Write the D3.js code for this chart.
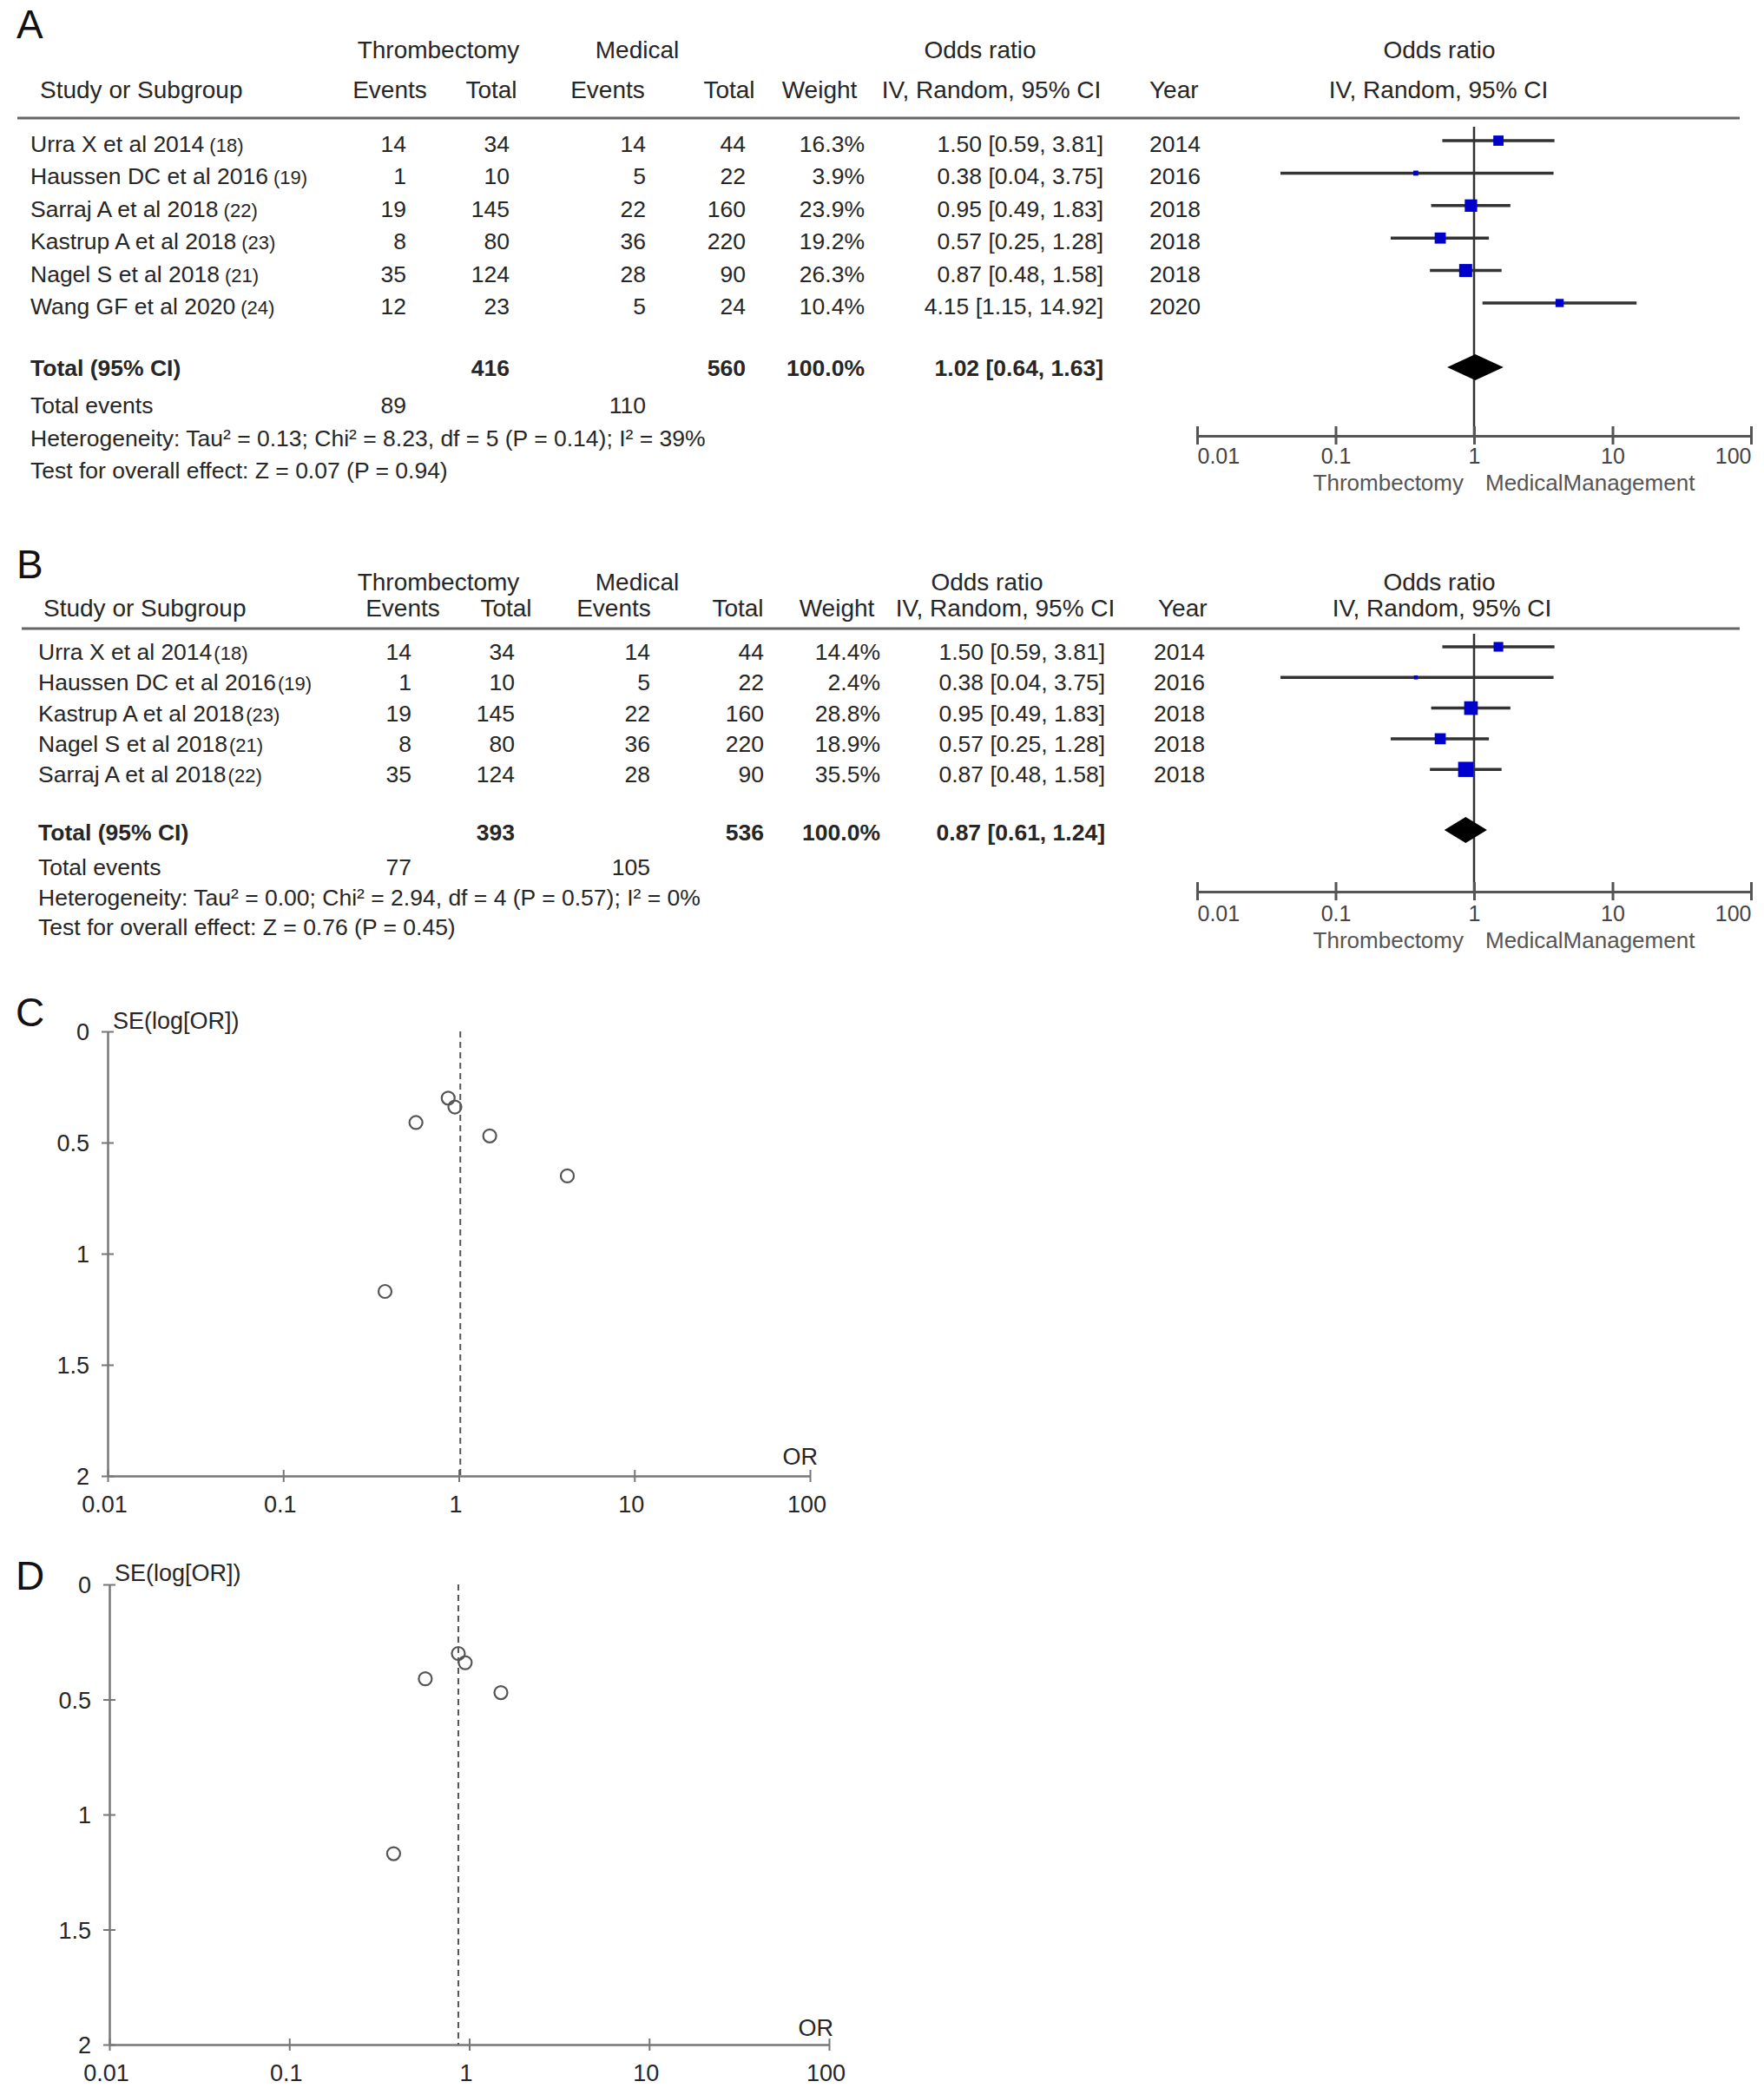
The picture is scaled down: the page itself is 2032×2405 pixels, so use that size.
<!DOCTYPE html>
<html>
<head>
<meta charset="utf-8">
<script src="https://cdn.jsdelivr.net/npm/d3@7"></script>
<style>
body { margin: 0; background: #fff; }
svg { display: block; font-family: "Liberation Sans", Arial, Helvetica, sans-serif; }
</style>
</head>
<body>
<svg id="fig" width="2032" height="2405"></svg>
<script>
// ---- panel A : all studies ----
var studiesA = ["Urra X et al 2014", "Haussen DC et al 2016", "Sarraj A et al 2018", "Kastrup A et al 2018", "Nagel S et al 2018", "Wang GF et al 2020"];
var refsA = ["(18)", "(19)", "(22)", "(23)", "(21)", "(24)"];
var thrEventsA = [14, 1, 19, 8, 35, 12];
var thrTotalA = [34, 10, 145, 80, 124, 23];
var medEventsA = [14, 5, 22, 36, 28, 5];
var medTotalA = [44, 22, 160, 220, 90, 24];
var weightA = [16.3, 3.9, 23.9, 19.2, 26.3, 10.4];
var orA = [1.50, 0.38, 0.95, 0.57, 0.87, 4.15];
var loA = [0.59, 0.04, 0.49, 0.25, 0.48, 1.15];
var hiA = [3.81, 3.75, 1.83, 1.28, 1.58, 14.92];
var yearA = [2014, 2016, 2018, 2018, 2018, 2020];
var pooledA = [1.02, 0.64, 1.63];
var totalsA = [416, 560];
var totalEventsA = [89, 110];
var hetA = "Heterogeneity: Tau\u00b2 = 0.13; Chi\u00b2 = 8.23, df = 5 (P = 0.14); I\u00b2 = 39%";
var testA = "Test for overall effect: Z = 0.07 (P = 0.94)";

// ---- panel B : sensitivity analysis ----
var studiesB = ["Urra X et al 2014", "Haussen DC et al 2016", "Kastrup A et al 2018", "Nagel S et al 2018", "Sarraj A et al 2018"];
var refsB = ["(18)", "(19)", "(23)", "(21)", "(22)"];
var thrEventsB = [14, 1, 19, 8, 35];
var thrTotalB = [34, 10, 145, 80, 124];
var medEventsB = [14, 5, 22, 36, 28];
var medTotalB = [44, 22, 160, 220, 90];
var weightB = [14.4, 2.4, 28.8, 18.9, 35.5];
var orB = [1.50, 0.38, 0.95, 0.57, 0.87];
var loB = [0.59, 0.04, 0.49, 0.25, 0.48];
var hiB = [3.81, 3.75, 1.83, 1.28, 1.58];
var yearB = [2014, 2016, 2018, 2018, 2018];
var pooledB = [0.87, 0.61, 1.24];
var totalsB = [393, 536];
var totalEventsB = [77, 105];
var hetB = "Heterogeneity: Tau\u00b2 = 0.00; Chi\u00b2 = 2.94, df = 4 (P = 0.57); I\u00b2 = 0%";
var testB = "Test for overall effect: Z = 0.76 (P = 0.45)";

// ---- funnel plots C and D ----
var funnelOrC = [1.50, 0.38, 0.95, 0.57, 0.87, 4.15];
var funnelSeC = [0.47, 1.17, 0.34, 0.41, 0.30, 0.65];
var funnelPooledC = 1.02;
var funnelOrD = [1.50, 0.38, 0.95, 0.57, 0.87];
var funnelSeD = [0.47, 1.17, 0.34, 0.41, 0.30];
var funnelPooledD = 0.87;

// ---- tick labels ----
var orTicks = [0.01, 0.1, 1, 10, 100];
var seTicks = [0, 0.5, 1, 1.5, 2];

var svg = d3.select("#fig");
var txt = "#262626";

function fmt2(v) { return v.toFixed(2); }

function drawForest(cfg, d) {
    var g = svg.append("g").classed("forest", true);
    var x = d3.scaleLog().domain([0.01, 100]).range([1379, 2017]);
    var side = d3.scaleSqrt().domain([0, 40]).range([0, 18.5]);
    var rowY = function (i) { return cfg.rowY0 + i * cfg.rowStep; };

    g.append("text").attr("x", 19).attr("y", cfg.letterY)
        .attr("font-size", 46).attr("fill", "#111").text(cfg.letter);

    // header
    var h = g.append("g").attr("font-size", 28).attr("fill", txt).attr("text-anchor", "middle");
    h.append("text").attr("x", cfg.hdr.thromb).attr("y", cfg.hdr1Y).text("Thrombectomy");
    h.append("text").attr("x", cfg.hdr.medical).attr("y", cfg.hdr1Y).text("Medical");
    h.append("text").attr("x", cfg.hdr.or).attr("y", cfg.hdr1Y).text("Odds ratio");
    h.append("text").attr("x", cfg.hdr.or2).attr("y", cfg.hdr1Y).text("Odds ratio");
    h.append("text").attr("x", cfg.studyHdrX).attr("y", cfg.hdr2Y).attr("text-anchor", "start").text("Study or Subgroup");
    h.append("text").attr("x", cfg.hdr.te).attr("y", cfg.hdr2Y).text("Events");
    h.append("text").attr("x", cfg.hdr.tt).attr("y", cfg.hdr2Y).text("Total");
    h.append("text").attr("x", cfg.hdr.me).attr("y", cfg.hdr2Y).text("Events");
    h.append("text").attr("x", cfg.hdr.mt).attr("y", cfg.hdr2Y).text("Total");
    h.append("text").attr("x", cfg.hdr.w).attr("y", cfg.hdr2Y).text("Weight");
    h.append("text").attr("x", cfg.hdr.iv).attr("y", cfg.hdr2Y).text("IV, Random, 95% CI");
    h.append("text").attr("x", cfg.hdr.year).attr("y", cfg.hdr2Y).attr("text-anchor", "start").text("Year");
    h.append("text").attr("x", cfg.hdr.iv2).attr("y", cfg.hdr2Y).text("IV, Random, 95% CI");

    g.append("line").attr("x1", cfg.ruleX0).attr("x2", 2004)
        .attr("y1", cfg.ruleY).attr("y2", cfg.ruleY)
        .attr("stroke", "#666").attr("stroke-width", 3);

    // study rows
    var rows = g.append("g").attr("font-size", 26.5).attr("fill", txt);
    d.studies.forEach(function (s, i) {
        var t = rows.append("text").attr("x", cfg.nameX).attr("y", rowY(i)).text(s);
        t.append("tspan").attr("dx", cfg.refGap).attr("font-size", 22).text(d.refs[i]);
        var cells = [
            [cfg.cols.te, d.thrEvents[i]], [cfg.cols.tt, d.thrTotal[i]],
            [cfg.cols.me, d.medEvents[i]], [cfg.cols.mt, d.medTotal[i]],
            [cfg.cols.w, d.weight[i].toFixed(1) + "%"],
            [cfg.cols.ci, fmt2(d.or[i]) + " [" + fmt2(d.lo[i]) + ", " + fmt2(d.hi[i]) + "]"]
        ];
        cells.forEach(function (c) {
            rows.append("text").attr("x", c[0]).attr("y", rowY(i)).attr("text-anchor", "end").text(c[1]);
        });
        rows.append("text").attr("x", cfg.cols.year).attr("y", rowY(i)).text(d.year[i]);
    });

    // totals
    var tot = g.append("g").attr("font-size", 26.5).attr("fill", txt);
    tot.append("text").attr("x", cfg.nameX).attr("y", cfg.totalY).attr("font-weight", "bold").text("Total (95% CI)");
    tot.append("text").attr("x", cfg.cols.tt).attr("y", cfg.totalY).attr("font-weight", "bold").attr("text-anchor", "end").text(d.totals[0]);
    tot.append("text").attr("x", cfg.cols.mt).attr("y", cfg.totalY).attr("font-weight", "bold").attr("text-anchor", "end").text(d.totals[1]);
    tot.append("text").attr("x", cfg.cols.w).attr("y", cfg.totalY).attr("font-weight", "bold").attr("text-anchor", "end").text("100.0%");
    tot.append("text").attr("x", cfg.cols.ci).attr("y", cfg.totalY).attr("font-weight", "bold").attr("text-anchor", "end")
        .text(fmt2(d.pooled[0]) + " [" + fmt2(d.pooled[1]) + ", " + fmt2(d.pooled[2]) + "]");
    tot.append("text").attr("x", cfg.nameX).attr("y", cfg.evY).text("Total events");
    tot.append("text").attr("x", cfg.cols.te).attr("y", cfg.evY).attr("text-anchor", "end").text(d.totalEvents[0]);
    tot.append("text").attr("x", cfg.cols.me).attr("y", cfg.evY).attr("text-anchor", "end").text(d.totalEvents[1]);
    tot.append("text").attr("x", cfg.nameX).attr("y", cfg.hetY).text(d.het);
    tot.append("text").attr("x", cfg.nameX).attr("y", cfg.testY).text(d.test);

    // plot: line of no effect
    g.append("line").attr("x1", x(1)).attr("x2", x(1))
        .attr("y1", cfg.vTop).attr("y2", cfg.axisY)
        .attr("stroke", "#333").attr("stroke-width", 2.5);

    // confidence intervals and squares
    var marks = g.append("g");
    d.or.forEach(function (v, i) {
        var cy = rowY(i) - cfg.markDy;
        marks.append("line").attr("x1", x(d.lo[i])).attr("x2", x(d.hi[i]))
            .attr("y1", cy).attr("y2", cy)
            .attr("stroke", "#333").attr("stroke-width", 3.5);
        var s = side(d.weight[i]);
        marks.append("rect").attr("x", x(v) - s / 2).attr("y", cy - s / 2)
            .attr("width", s).attr("height", s).attr("fill", "#0000cc");
    });

    // pooled diamond
    var dy = cfg.totalY - cfg.diaDy;
    var pts = [[x(d.pooled[1]), dy], [x(d.pooled[0]), dy - 15], [x(d.pooled[2]), dy], [x(d.pooled[0]), dy + 15]];
    g.append("path").attr("d", "M" + pts.join("L") + "Z").attr("fill", "#000");

    // axis
    var axisG = g.append("g").attr("transform", "translate(0," + cfg.axisY + ")")
        .call(d3.axisBottom(x).tickValues(orTicks).tickFormat(function (t) { return String(t); }).tickSizeOuter(0));
    axisG.attr("font-family", null).attr("font-size", 25);
    axisG.select(".domain").attr("stroke", "#555").attr("stroke-width", 3);
    axisG.selectAll(".tick line").attr("y1", -11).attr("y2", 10).attr("stroke", "#555").attr("stroke-width", 3);
    axisG.selectAll(".tick text").attr("dy", null).attr("y", cfg.tickLabY - cfg.axisY).attr("fill", "#444")
        .attr("text-anchor", function (t, i) { return i === 0 ? "start" : (i === orTicks.length - 1 ? "end" : "middle"); });

    g.append("text").attr("x", x(1) - 12).attr("y", cfg.sideLabY).attr("text-anchor", "end")
        .attr("font-size", 26).attr("fill", "#555").text("Thrombectomy");
    g.append("text").attr("x", x(1) + 13).attr("y", cfg.sideLabY)
        .attr("font-size", 26).attr("fill", "#555").text("MedicalManagement");
}

function drawFunnel(cfg, ors, ses, pooled) {
    var g = svg.append("g").classed("funnel", true);
    var x = d3.scaleLog().domain([0.01, 100]).range([cfg.x0, cfg.x1]);
    var y = d3.scaleLinear().domain([0, 2]).range([cfg.y0, cfg.y1]);

    g.append("text").attr("x", 18).attr("y", cfg.letterY)
        .attr("font-size", 46).attr("fill", "#111").text(cfg.letter);

    var ya = g.append("g").attr("transform", "translate(" + cfg.x0 + ",0)")
        .call(d3.axisLeft(y).tickValues(seTicks).tickFormat(function (t) { return String(t); }).tickSizeOuter(0));
    ya.attr("font-family", null).attr("font-size", 27);
    ya.select(".domain").attr("stroke", "#777").attr("stroke-width", 2.5);
    ya.selectAll(".tick line").attr("x1", -7).attr("x2", 7).attr("stroke", "#777").attr("stroke-width", 2);
    ya.selectAll(".tick text").attr("x", -21).attr("dy", "0.36em").attr("fill", txt);

    var xa = g.append("g").attr("transform", "translate(0," + cfg.y1 + ")")
        .call(d3.axisBottom(x).tickValues(orTicks).tickFormat(function (t) { return String(t); }).tickSizeOuter(0));
    xa.attr("font-family", null).attr("font-size", 27);
    xa.select(".domain").attr("stroke", "#777").attr("stroke-width", 2.5);
    xa.selectAll(".tick line").attr("y1", -7).attr("y2", 7).attr("stroke", "#777").attr("stroke-width", 2);
    xa.selectAll(".tick text").attr("dy", null).attr("y", 42).attr("dx", -4).attr("fill", txt);

    g.append("text").attr("x", cfg.x0 + 6).attr("y", cfg.seLabY)
        .attr("font-size", 27).attr("fill", txt).text("SE(log[OR])");
    g.append("text").attr("x", cfg.orLabX).attr("y", cfg.orLabY).attr("text-anchor", "end")
        .attr("font-size", 27).attr("fill", txt).text("OR");

    g.append("line").attr("x1", x(pooled)).attr("x2", x(pooled))
        .attr("y1", y(0)).attr("y2", y(2))
        .attr("stroke", "#555").attr("stroke-width", 2).attr("stroke-dasharray", "7,5");

    g.selectAll("circle.study").data(ors).enter().append("circle")
        .attr("class", "study")
        .attr("cx", function (v) { return x(v); })
        .attr("cy", function (v, i) { return y(ses[i]); })
        .attr("r", 7.5)
        .attr("fill", "none").attr("stroke", "#555").attr("stroke-width", 2.2);
}

drawForest({
    letter: "A", letterY: 44, hdr1Y: 67, hdr2Y: 113, ruleY: 136, ruleX0: 20,
    rowY0: 175, rowStep: 37.4, totalY: 433, evY: 476, hetY: 514, testY: 551,
    nameX: 35, studyHdrX: 46, refGap: 6, markDy: 13, diaDy: 10,
    cols: { te: 468, tt: 587, me: 744, mt: 859, w: 996, ci: 1271, year: 1324 },
    hdr: { thromb: 505, medical: 734, te: 449, tt: 566, me: 700, mt: 840, w: 944, or: 1129, iv: 1142, year: 1324, or2: 1658, iv2: 1657 },
    axisY: 502, vTop: 146, tickLabY: 534, sideLabY: 565
}, {
    studies: studiesA, refs: refsA, thrEvents: thrEventsA, thrTotal: thrTotalA,
    medEvents: medEventsA, medTotal: medTotalA, weight: weightA,
    or: orA, lo: loA, hi: hiA, year: yearA, pooled: pooledA,
    totals: totalsA, totalEvents: totalEventsA, het: hetA, test: testA
});

drawForest({
    letter: "B", letterY: 666, hdr1Y: 680, hdr2Y: 710, ruleY: 724, ruleX0: 25,
    rowY0: 760, rowStep: 35.3, totalY: 968, evY: 1008, hetY: 1043, testY: 1077,
    nameX: 44, studyHdrX: 50, refGap: 2, markDy: 15, diaDy: 12,
    cols: { te: 474, tt: 593, me: 749, mt: 880, w: 1014, ci: 1273, year: 1329 },
    hdr: { thromb: 505, medical: 734, te: 464, tt: 583, me: 707, mt: 850, w: 964, or: 1137, iv: 1158, year: 1334, or2: 1658, iv2: 1661 },
    axisY: 1027, vTop: 730, tickLabY: 1061, sideLabY: 1092
}, {
    studies: studiesB, refs: refsB, thrEvents: thrEventsB, thrTotal: thrTotalB,
    medEvents: medEventsB, medTotal: medTotalB, weight: weightB,
    or: orB, lo: loB, hi: hiB, year: yearB, pooled: pooledB,
    totals: totalsB, totalEvents: totalEventsB, het: hetB, test: testB
});

drawFunnel({
    letter: "C", letterY: 1182, x0: 124, x1: 933, y0: 1188, y1: 1700,
    seLabY: 1185, orLabX: 942, orLabY: 1687
}, funnelOrC, funnelSeC, funnelPooledC);

drawFunnel({
    letter: "D", letterY: 1831, x0: 126, x1: 955, y0: 1825, y1: 2355,
    seLabY: 1821, orLabX: 960, orLabY: 2345
}, funnelOrD, funnelSeD, funnelPooledD);
</script>
</body>
</html>
